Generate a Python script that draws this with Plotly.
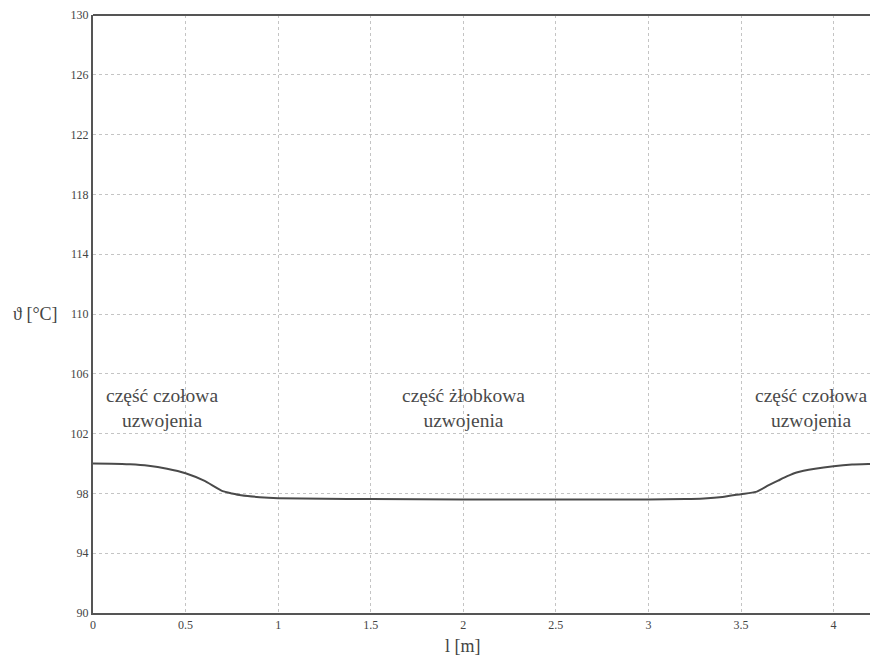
import plotly.graph_objects as go

# data
length_m = [0.0, 0.1, 0.2, 0.3, 0.4, 0.5, 0.6, 0.7, 0.75, 0.8, 0.9, 1.0, 1.25, 1.5,
            2.0, 2.5, 3.0, 3.2, 3.3, 3.4, 3.5, 3.58, 3.65, 3.7, 3.75, 3.8, 3.9,
            4.0, 4.1, 4.2, 4.3]
temp_c = [100.0, 99.99, 99.95, 99.85, 99.65, 99.35, 98.85, 98.15, 98.0, 97.88, 97.75,
          97.68, 97.64, 97.62, 97.6, 97.6, 97.6, 97.62, 97.66, 97.76, 97.95, 98.1,
          98.55, 98.85, 99.15, 99.4, 99.65, 99.82, 99.93, 99.97, 100.0]

x_ticks = [0, 0.5, 1, 1.5, 2, 2.5, 3, 3.5, 4]
x_tick_text = ["0", "0.5", "1", "1.5", "2", "2.5", "3", "3.5", "4"]
y_ticks = [90, 94, 98, 102, 106, 110, 114, 118, 122, 126, 130]

labels = ["część czołowa<br>uzwojenia", "część żłobkowa<br>uzwojenia", "część czołowa<br>uzwojenia"]
label_x = [0.37, 2.0, 3.88]
label_y = [103.7, 103.7, 103.7]

serif = "Liberation Serif"

fig = go.Figure()
fig.add_trace(go.Scatter(x=length_m, y=temp_c, mode="lines",
                         line=dict(color="#4a4a4a", width=2, shape="spline", smoothing=0.5),
                         showlegend=False, hoverinfo="skip"))

for t, xv, yv in zip(labels, label_x, label_y):
    fig.add_annotation(x=xv, y=yv, text=t, showarrow=False,
                       font=dict(family=serif, size=19.5, color="#4a4a4a"),
                       xanchor="center", yanchor="middle")

fig.add_annotation(xref="paper", yref="y", x=-0.042, y=110, text="ϑ [°C]",
                   showarrow=False, xanchor="right", yanchor="middle",
                   font=dict(family=serif, size=18, color="#444444"))
fig.add_annotation(xref="x", yref="paper", x=2.0, y=-0.055, text="l [m]",
                   showarrow=False, xanchor="center", yanchor="middle",
                   font=dict(family=serif, size=18, color="#444444"))

fig.update_layout(
    width=870, height=649,
    margin=dict(l=85, r=0, t=7, b=44),
    paper_bgcolor="white", plot_bgcolor="white",
    font=dict(family=serif, color="#444444"),
)
fig.update_xaxes(range=[0, 4.24], tickvals=x_ticks, ticktext=x_tick_text,
                 showgrid=True, gridcolor="#c4c4c4", griddash="dot", gridwidth=1,
                 showline=True, linecolor="#555555", linewidth=2, mirror=False,
                 ticks="", tickfont=dict(family=serif, size=12, color="#444444"),
                 zeroline=False)
fig.update_yaxes(range=[90, 130], tickvals=y_ticks,
                 showgrid=True, gridcolor="#c4c4c4", griddash="dot", gridwidth=1,
                 showline=True, linecolor="#555555", linewidth=2, mirror=False,
                 ticks="", tickfont=dict(family=serif, size=12, color="#444444"),
                 zeroline=False)
# top border line
fig.add_shape(type="line", xref="paper", yref="paper", x0=0, x1=1, y0=1, y1=1,
              line=dict(color="#555555", width=2))

fig.write_html("out.html")
